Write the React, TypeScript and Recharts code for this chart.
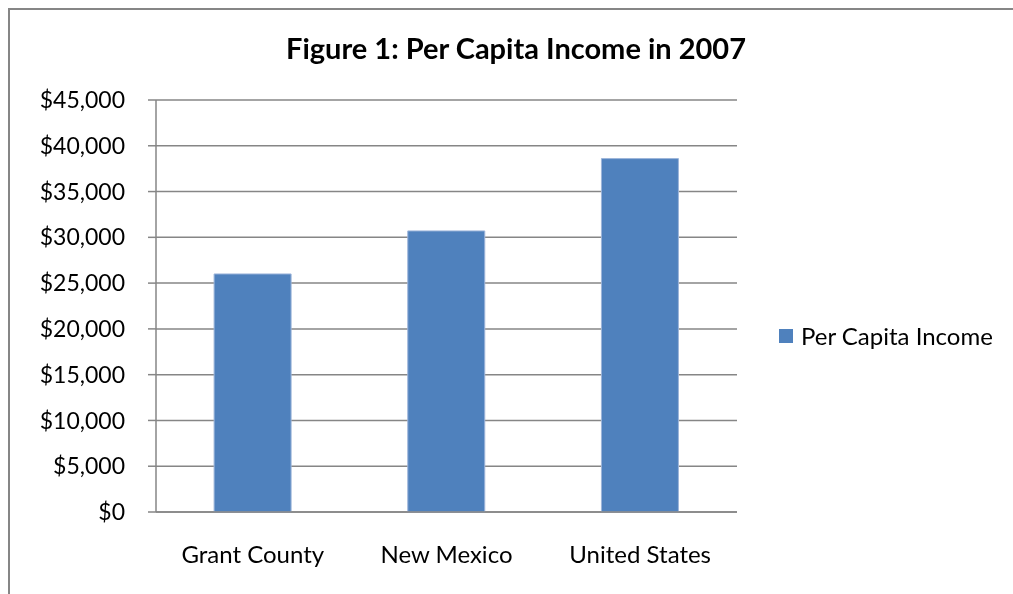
import React from 'react';
import { BarChart, Bar, XAxis, YAxis, CartesianGrid, Legend } from 'recharts';

const chartTitle = 'Figure 1: Per Capita Income in 2007';
const seriesName = 'Per Capita Income';
const categories = ['Grant County', 'New Mexico', 'United States'];
const incomeValues = [26000, 30700, 38600];
const yTicks = [0, 5000, 10000, 15000, 20000, 25000, 30000, 35000, 40000, 45000];
const boundaryTicks = [0, 1, 2, 3];

const data = categories.map((name, i) => ({ name, idx: i + 0.5, value: incomeValues[i] }));

const FONT = 'Lato, "Open Sans", sans-serif';
const AXIS = '#868686';
const BAR = '#4F81BD';

const W = 1005;
const H = 578;

const renderLegend = (props: any) => {
  const payload = props.payload || [];
  return (
    <div style={{ display: 'flex', alignItems: 'center', fontFamily: FONT, fontSize: 24, color: '#000', whiteSpace: 'nowrap' }}>
      {payload.map((e: any, i: number) => (
        <React.Fragment key={i}>
          <span style={{ display: 'inline-block', width: 14, height: 14, background: BAR, marginRight: 8 }} />
          <span>{e.value}</span>
        </React.Fragment>
      ))}
    </div>
  );
};

export default function App() {
  return (
    <div style={{ position: 'relative', width: W, height: H, background: '#fff' }}>
      <div
        style={{
          position: 'fixed',
          left: 8,
          top: 8,
          width: 2000,
          height: 2000,
          borderLeft: `2px solid ${AXIS}`,
          borderTop: `2px solid ${AXIS}`,
          boxSizing: 'border-box',
          pointerEvents: 'none',
        }}
      />
      <div style={{ position: 'absolute', left: 0, top: 0 }}>
        <BarChart width={W} height={H} data={data} margin={{ top: 92, right: 276, bottom: 0, left: 0 }} barCategoryGap="30%">
          <CartesianGrid xAxisId="b" vertical={false} stroke={AXIS} strokeWidth={1.5} />
          <XAxis
            xAxisId="b"
            dataKey="name"
            height={66}
            axisLine={false}
            tickLine={false}
            tickSize={0}
            tickMargin={26}
            interval={0}
            tick={{ fill: '#000', fontSize: 24, fontFamily: FONT }}
          />
          <XAxis
            xAxisId="a"
            dataKey="idx"
            type="number"
            domain={[0, 3]}
            ticks={boundaryTicks}
            interval={0}
            allowDataOverflow
            height={8}
            tick={false}
            tickSize={8}
            tickLine={{ stroke: AXIS, strokeWidth: 1.5 }}
            axisLine={{ stroke: AXIS, strokeWidth: 1.5 }}
          />
          <YAxis
            width={148}
            domain={[0, 45000]}
            ticks={yTicks}
            interval={0}
            tickSize={8}
            tickMargin={23}
            tickFormatter={(v: number) => '$' + v.toLocaleString('en-US')}
            tick={{ fill: '#000', fontSize: 23, fontFamily: FONT }}
            tickLine={{ stroke: AXIS, strokeWidth: 1.5 }}
            axisLine={{ stroke: AXIS, strokeWidth: 1.5 }}
          />
          <Legend
            layout="horizontal"
            align="center"
            verticalAlign="middle"
            content={renderLegend}
            wrapperStyle={{ left: 771, top: 313, width: 'auto', height: 'auto' }}
          />
          <Bar xAxisId="b" dataKey="value" name={seriesName} fill={BAR} stroke="#9db5da" strokeWidth={1} isAnimationActive={false} />
        </BarChart>
      </div>
      <svg width={W} height={H} style={{ position: 'absolute', left: 0, top: 0, pointerEvents: 'none' }}>
        <text x={508} y={51.3} textAnchor="middle" fontFamily={FONT} fontWeight="bold" fontSize={29} fill="#000">
          {chartTitle}
        </text>
      </svg>
    </div>
  );
}
